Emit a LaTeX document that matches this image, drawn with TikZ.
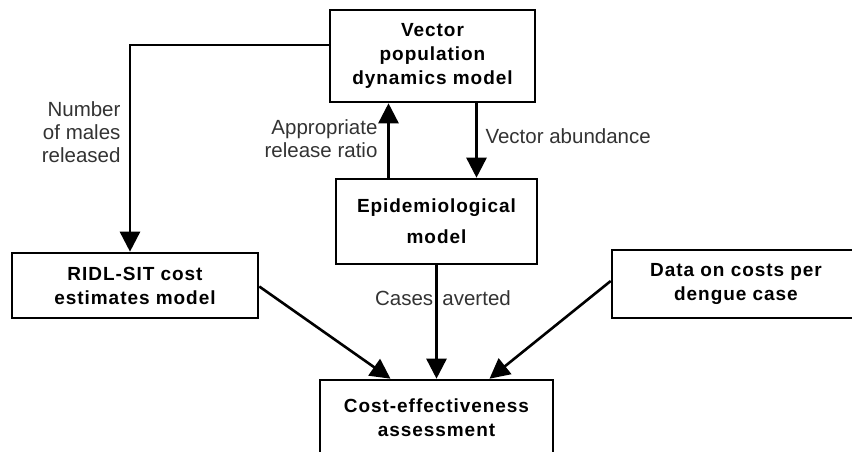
\documentclass[tikz,border=0pt]{standalone}
\usepackage{fontspec}
\setmainfont{Liberation Sans}
\newfontfamily\boxfont{Liberation Sans}[LetterSpace=5.0]
\usetikzlibrary{arrows.meta,positioning,calc}

\begin{document}
\begin{tikzpicture}[x=1pt, y=1pt,
    box/.style={draw, line width=2.6pt, align=center, inner sep=0pt,
        font=\boxfont\fontsize{19}{24}\selectfont\bfseries},
    lbl/.style={font=\fontsize{20.5}{23}\selectfont, text=black!80},
    flow/.style={-{Triangle[length=20pt,width=20pt]}, line width=2.6pt}
]
    \useasboundingbox (0,0) rectangle (852,451);

    \node[box, minimum width=205pt, minimum height=92pt] (vec) at (432.5,395) {Vector\\population\\dynamics model};
    \node[box, minimum width=201pt, minimum height=85pt] (epi) at (436.5,229.5) {Epidemiological\\[7pt]model};
    \node[box, minimum width=246pt, minimum height=65pt] (ridl) at (135,165.5) {RIDL-SIT cost\\estimates model};
    \node[box, minimum width=248pt, minimum height=68pt] (data) at (736,167) {Data on costs per\\dengue case};
    \node[box, minimum width=233pt, minimum height=76pt] (cea) at (436.5,33) {Cost-effectiveness\\assessment};

    \draw[flow] ([yshift=11pt]vec.west) -| ([xshift=-5pt]ridl.north);
    \draw[flow] ([xshift=-48pt]epi.north) -- ([xshift=-48pt]epi.north |- vec.south);
    \draw[flow] ([xshift=44pt]vec.south) -- ([xshift=44pt]vec.south |- epi.north);
    \draw[flow] (epi.south) -- (epi.south |- cea.north);
    \draw[flow] ([yshift=-1pt]ridl.east) -- ([xshift=-46pt]cea.north);
    \draw[flow] ([yshift=3pt]data.west) -- ([xshift=53pt]cea.north);

    \node[lbl, align=right, anchor=east] (males) at (124,319) {Number\\of males\\released};
    \node[lbl, align=right, anchor=east] (ratio) at (381,312) {Appropriate\\release ratio};
    \node[lbl, anchor=west] (abund) at (482,315) {Vector abundance};
    \node[lbl] (averted) at (443,153) {Cases\hspace{0.45em}averted};
\end{tikzpicture}
\end{document}
